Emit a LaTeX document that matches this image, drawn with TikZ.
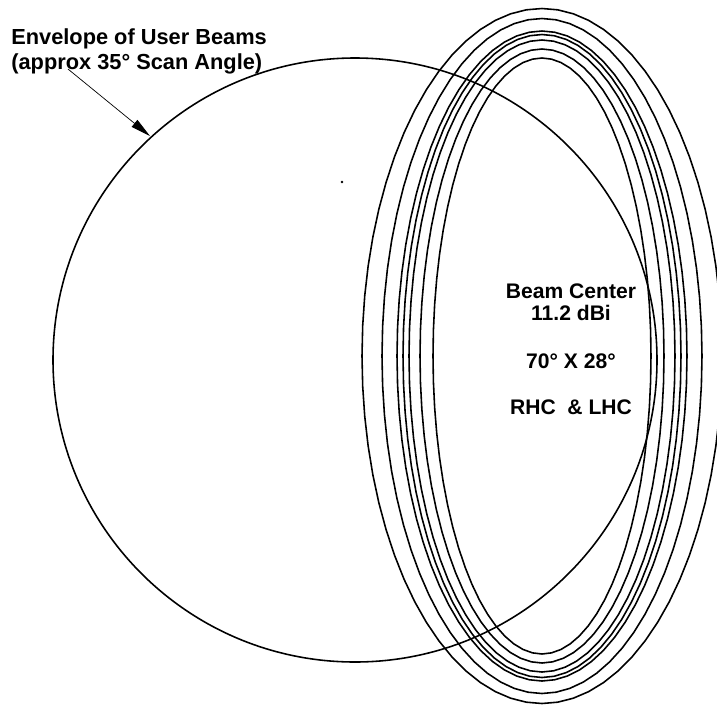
\documentclass[tikz,border=0pt]{standalone}
\usepackage{fontspec}
\setmainfont{Liberation Sans}
\usepackage{tikz}
\usetikzlibrary{arrows.meta,calc}

\begin{document}
\begin{tikzpicture}[x=0.02cm, y=0.02cm,
    contour/.style={line width=0.9pt, line join=round},
    envelope/.style={line width=0.9pt},
    lbl/.style={font=\bfseries\fontsize{12}{14.2}\selectfont, inner sep=0pt}]
                % 1. Page frame
                \path[use as bounding box, clip] (0,0) rectangle (717,-707);

                % 2. Envelope of user beams
                \draw[envelope] (355,-360) circle[radius=302];
                \fill (342,-182) circle[radius=1.3];

                % 3. Beam contours
                \foreach \rx/\ry in {180/347.5, 160/337.5, 145/325, 139/321.5, 133/316, 122/307, 109/298}
                    \draw[contour] plot[domain=0:360, samples=73]
                        ({542+\rx*cos(\x)}, {-356+\ry*sin(\x)});

                % 4. Labels
                \node[lbl, font=\bfseries\fontsize{12.4}{14.2}\selectfont, anchor=north west, align=left]
                    (envlabel) at (11,-28) {Envelope of User Beams\\(approx 35° Scan Angle)};
                \coordinate (tip) at (150,-136);
                \draw[-{Triangle[length=4mm, width=1.8mm]}]
                    ($(envlabel.south west)+(57,5)$) -- (tip);

                \node[lbl, anchor=base] (beamcenter) at (571,-298) {Beam Center};
                \node[lbl, anchor=base] (gain) at (571,-320) {11.2 dBi};
                \node[lbl, anchor=base] (beamwidth) at (571,-368) {70° X 28°};
                \node[lbl, anchor=base] (polar) at (571,-414) {RHC~ \& LHC};
            \end{tikzpicture}
\end{document}
